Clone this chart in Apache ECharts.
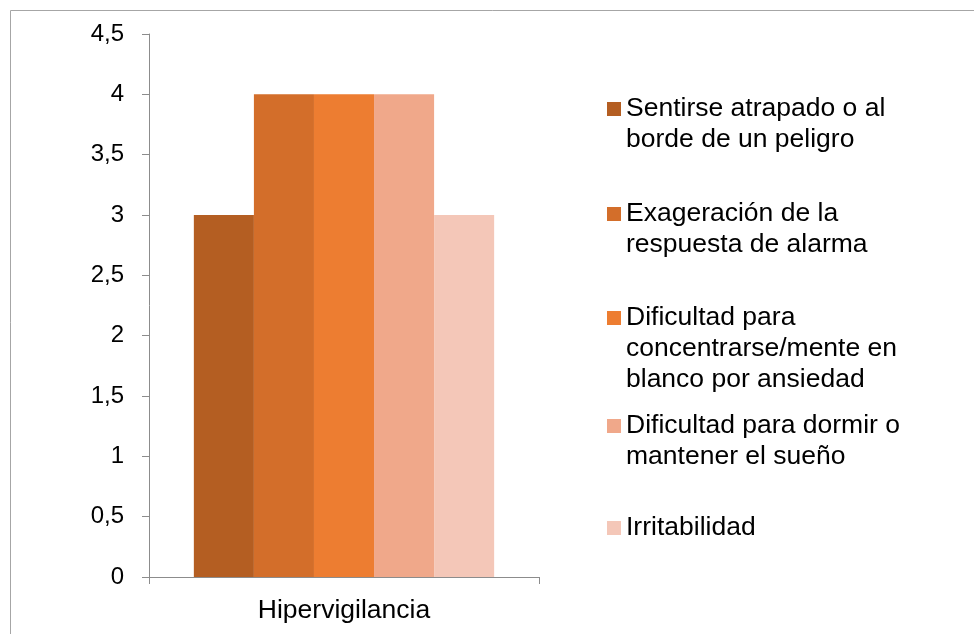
<!DOCTYPE html>
<html>
<head>
<meta charset="utf-8">
<script src="https://cdn.jsdelivr.net/npm/echarts@6/dist/echarts.min.js"></script>
<style>
  html, body { margin: 0; padding: 0; background: #fff; }
  #chart { width: 974px; height: 634px; }
</style>
</head>
<body>
<div id="chart"></div>
<script>
// Category and series data
const categories = ['Hipervigilancia'];
const seriesNames = [
  'Sentirse atrapado o al\nborde de un peligro',
  'Exageración de la\nrespuesta de alarma',
  'Dificultad para\nconcentrarse/mente en\nblanco por ansiedad',
  'Dificultad para dormir o\nmantener el sueño',
  'Irritabilidad'
];
const seriesValues = [[3], [4], [4], [4], [3]];
const seriesColors = ['#B45E22', '#D36E2A', '#ED7D31', '#F0A88A', '#F4C7B8'];

// Legend entry vertical centres (first text line of each entry)
const legendCenters = [109, 214, 318, 426, 528];

const FONT = '"Liberation Sans", Arial, sans-serif';
const LINE_H = 31;

const chart = echarts.init(document.getElementById('chart'), null, { renderer: 'canvas' });

// One legend per entry; blank lines above the text keep the marker
// level with the first line of a wrapped label
const legends = seriesNames.map((name, i) => {
  const lines = name.split('\n').length;
  return {
    data: [name],
    orient: 'vertical',
    left: 607,
    top: legendCenters[i] - (2 * lines - 1) * LINE_H / 2,
    padding: 0,
    itemWidth: 14,
    itemHeight: 14,
    icon: 'rect',
    selectedMode: false,
    formatter: n => '\n'.repeat(lines - 1) + n,
    textStyle: {
      fontFamily: FONT,
      fontSize: 26.5,
      color: '#000',
      lineHeight: LINE_H
    }
  };
});

const option = {
  animation: false,
  backgroundColor: '#fff',
  graphic: [{
    type: 'rect',
    shape: { x: 10.5, y: 10.5, width: 1000, height: 700 },
    style: { fill: 'none', stroke: '#A6A6A6', lineWidth: 1 },
    silent: true
  }],
  legend: legends,
  grid: { left: 149, right: 435, top: 34, bottom: 57, containLabel: false },
  xAxis: {
    type: 'category',
    data: categories,
    axisLine: { show: true, lineStyle: { color: '#8C8C8C', width: 1 } },
    axisTick: { show: true, length: 7, lineStyle: { color: '#8C8C8C' } },
    axisLabel: { fontFamily: FONT, fontSize: 26.5, color: '#000', margin: 20 }
  },
  yAxis: {
    type: 'value',
    min: 0,
    max: 4.5,
    interval: 0.5,
    axisLine: { show: true, lineStyle: { color: '#8C8C8C', width: 1 } },
    axisTick: { show: true, length: 7, lineStyle: { color: '#8C8C8C' } },
    splitLine: { show: false },
    axisLabel: {
      fontFamily: FONT,
      fontSize: 24,
      color: '#000',
      margin: 25,
      formatter: v => String(v).replace('.', ',')
    }
  },
  series: seriesNames.map((name, i) => ({
    name: name,
    type: 'bar',
    data: seriesValues[i],
    barGap: '0%',
    barCategoryGap: '23%',
    itemStyle: { color: seriesColors[i] }
  }))
};

chart.setOption(option);
</script>
</body>
</html>
